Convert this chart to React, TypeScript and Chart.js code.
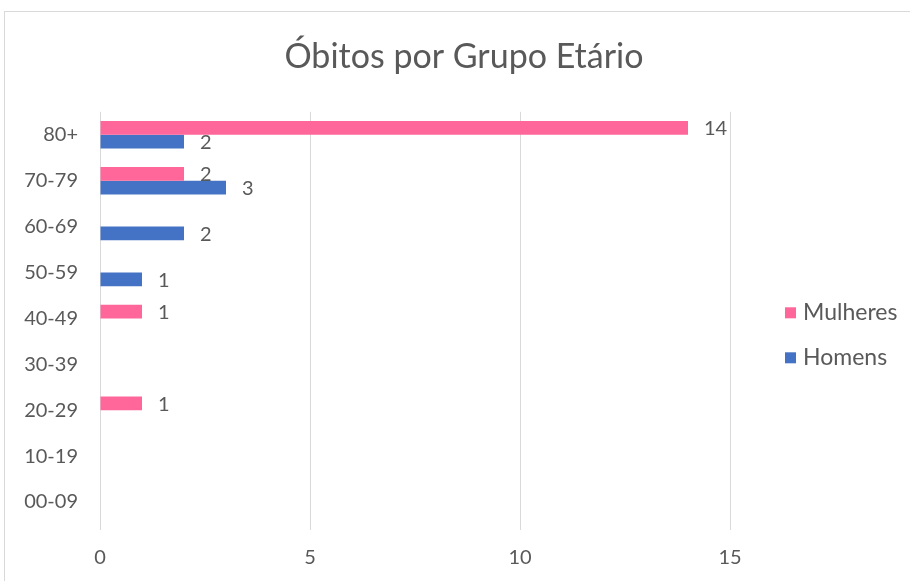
import React, { useEffect, useRef } from "react";
import { Chart, registerables } from "chart.js";

Chart.register(...registerables);

const chartTitle = "Óbitos por Grupo Etário";
const categories = ["80+", "70-79", "60-69", "50-59", "40-49", "30-39", "20-29", "10-19", "00-09"];
const mulheres = [14, 2, 0, 0, 1, 0, 1, 0, 0];
const homens = [2, 3, 2, 1, 0, 0, 0, 0, 0];
const seriesNames = ["Mulheres", "Homens"];
const seriesColors = ["#FF6699", "#4472C4"];
const xMin = 0;
const xMax = 15;
const xStep = 5;

const FONT = "Lato, 'Open Sans', 'Noto Sans', sans-serif";
const TEXT = "#595959";
const GRID = "#d9d9d9";

const barLabelsPlugin = {
  id: "barLabels",
  afterDatasetsDraw(chart: any) {
    const ctx = chart.ctx;
    ctx.save();
    ctx.font = `20px ${FONT}`;
    ctx.fillStyle = TEXT;
    ctx.textAlign = "left";
    ctx.textBaseline = "middle";
    chart.data.datasets.forEach((ds: any, di: number) => {
      const meta = chart.getDatasetMeta(di);
      meta.data.forEach((el: any, i: number) => {
        const v = ds.data[i];
        if (!v) return;
        ctx.fillText(String(v), el.x + 16, el.y + 1);
      });
    });
    ctx.restore();
  },
};

const sideLegendPlugin = {
  id: "sideLegend",
  afterLayout(chart: any) {
    const t = chart.titleBlock;
    if (t) {
      t.left = 0;
      t.right = 928;
      t.width = 928;
    }
  },
  afterDraw(chart: any) {
    const ctx = chart.ctx;
    const x0 = chart.chartArea.right + 55;
    const top = chart.chartArea.top;
    const ys = [top + 201, top + 246];
    ctx.save();
    ctx.font = `23px ${FONT}`;
    ctx.textAlign = "left";
    ctx.textBaseline = "middle";
    chart.data.datasets.forEach((ds: any, i: number) => {
      const y = ys[i];
      ctx.fillStyle = ds.backgroundColor;
      ctx.fillRect(x0, y - 5.5, 11, 11);
      ctx.fillStyle = TEXT;
      ctx.fillText(ds.label, x0 + 18, y);
    });
    ctx.restore();
  },
};

export default function App() {
  const canvasRef = useRef<HTMLCanvasElement | null>(null);

  useEffect(() => {
    if (!canvasRef.current) return;
    const chart = new Chart(canvasRef.current, {
      type: "bar",
      data: {
        labels: categories,
        datasets: [
          {
            label: seriesNames[0],
            data: mulheres,
            backgroundColor: seriesColors[0],
            borderWidth: 0,
            categoryPercentage: 0.6,
            barPercentage: 1,
          },
          {
            label: seriesNames[1],
            data: homens,
            backgroundColor: seriesColors[1],
            borderWidth: 0,
            categoryPercentage: 0.6,
            barPercentage: 1,
          },
        ],
      },
      options: {
        indexAxis: "y",
        responsive: false,
        animation: false,
        devicePixelRatio: 1,
        layout: { padding: { top: 0, right: 180, bottom: 0, left: 0 } },
        plugins: {
          legend: { display: false },
          tooltip: { enabled: false },
          title: {
            display: true,
            text: chartTitle,
            color: TEXT,
            font: { family: FONT, size: 34, weight: "normal" },
            padding: { top: 37, bottom: 34 },
          },
        },
        scales: {
          x: {
            min: xMin,
            max: xMax,
            afterFit(scale: any) {
              scale.height = 56;
            },
            ticks: {
              stepSize: xStep,
              color: TEXT,
              font: { family: FONT, size: 20 },
              padding: 16,
            },
            grid: {
              color: GRID,
              lineWidth: 1,
              drawTicks: true,
              tickLength: 5,
              tickColor: GRID,
            },
            border: { display: false },
          },
          y: {
            afterFit(scale: any) {
              scale.width = 100;
            },
            ticks: {
              color: TEXT,
              font: { family: FONT, size: 20 },
              padding: 22,
            },
            grid: { display: false, drawTicks: false },
            border: { display: false },
          },
        },
      },
      plugins: [barLabelsPlugin, sideLegendPlugin],
    } as any);
    return () => chart.destroy();
  }, []);

  return (
    <div
      style={{
        position: "absolute",
        left: 0,
        top: 0,
        width: 910,
        height: 581,
        overflow: "hidden",
        background: "#ffffff",
      }}
    >
      <div
        style={{
          position: "absolute",
          left: 4,
          top: 11,
          width: 960,
          height: 640,
          borderLeft: "1px solid #d9d9d9",
          borderTop: "1px solid #d9d9d9",
        }}
      />
      <canvas
        ref={canvasRef}
        width={910}
        height={581}
        style={{ position: "absolute", left: 0, top: 0, width: 910, height: 581 }}
      />
    </div>
  );
}
